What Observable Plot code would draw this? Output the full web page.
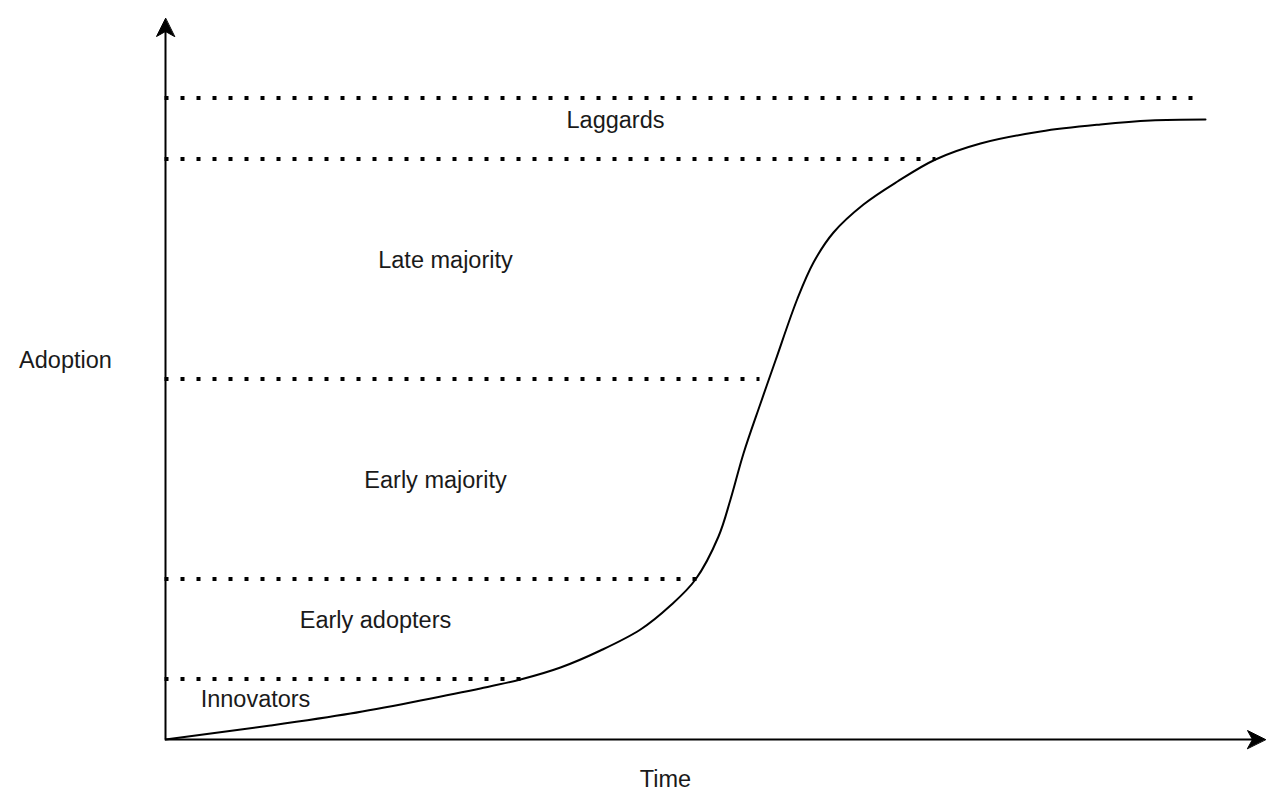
<!DOCTYPE html>
<html>
<head>
<meta charset="utf-8">
<script src="https://cdn.jsdelivr.net/npm/d3@7"></script>
<script src="https://cdn.jsdelivr.net/npm/@observablehq/plot@0.6"></script>
<style>
  html, body { margin: 0; padding: 0; background: #fff; }
  #chart svg { display: block; }
</style>
</head>
<body>
<div id="chart"></div>
<script>
// Adoption curve (time, adoption)
const curveTime = [0, 105, 185, 255, 315, 355, 395, 435, 475, 505, 530, 553, 565, 578, 595, 610, 632, 648, 668, 698, 732, 770, 815, 875, 935, 985, 1040];
const curveAdoption = [0, 14, 26, 39, 51, 60, 72, 89, 110, 134, 160, 203, 240, 286, 336, 379, 441, 477, 507, 535, 558, 580, 596, 608, 615, 619, 620];

// Segment boundaries (dotted lines): level and where each dotted line ends
const boundaryLevels = [641, 580, 360, 160, 60];
const boundaryEnds = [1028, 771, 595, 532, 356];

// Segment labels
const segmentNames = ["Laggards", "Late majority", "Early majority", "Early adopters", "Innovators"];
const segmentLabelX = [450, 280, 270, 210, 90];
const segmentLabelY = [619, 479, 259, 119, 40];

// Axis extents and titles
const timeMax = 1100;
const adoptionMax = 721;
const axisTitles = ["Adoption", "Time"];
const axisTitleX = [-100, 500];
const axisTitleY = [379, -40];

const curve = curveTime.map((t, i) => ({time: t, adoption: curveAdoption[i]}));
const boundaries = boundaryLevels.map((y, i) => ({y, x2: boundaryEnds[i]}));
const labels = segmentNames.map((name, i) => ({name, x: segmentLabelX[i], y: segmentLabelY[i]}));
const titles = axisTitles.map((name, i) => ({name, x: axisTitleX[i], y: axisTitleY[i]}));

// classic filled arrowhead, tip at origin pointing up
const arrowHead = {
  draw(context, l) {
    context.moveTo(0, 0);
    context.lineTo(-9, 18);
    context.lineTo(0, 13);
    context.lineTo(9, 18);
    context.closePath();
  }
};
const heads = [
  {x: 0, y: adoptionMax, rotate: 0},
  {x: timeMax, y: 0, rotate: 90}
];

const font = "'Liberation Sans', Arial, Helvetica, sans-serif";

const chart = Plot.plot({
  width: 1286,
  height: 804,
  marginLeft: 165,
  marginRight: 21,
  marginTop: 18,
  marginBottom: 65,
  x: {domain: [0, timeMax], axis: null},
  y: {domain: [0, adoptionMax], axis: null},
  style: {fontFamily: font, background: "#fff"},
  marks: [
    Plot.ruleY(boundaries, {y: "y", x1: 0, x2: "x2", dx: -0.5, dy: -0.5, stroke: "black", strokeWidth: 4, strokeDasharray: "4,12", strokeLinecap: "butt"}),
    Plot.ruleY([0], {x1: 0, x2: timeMax - 12, stroke: "black", strokeWidth: 2}),
    Plot.ruleX([0], {y1: 0, y2: adoptionMax - 12, stroke: "black", strokeWidth: 2}),
    Plot.vector(heads, {x: "x", y: "y", rotate: "rotate", length: 18, anchor: "start", shape: arrowHead, fill: "black", stroke: "black", strokeWidth: 1}),
    Plot.line(curve, {x: "time", y: "adoption", curve: "catmull-rom", stroke: "black", strokeWidth: 2}),
    Plot.text(labels, {x: "x", y: "y", text: "name", fontSize: 23.5, fill: "#1a1a1a"}),
    Plot.text(titles, {x: "x", y: "y", text: "name", fontSize: 23.5, fill: "#1a1a1a"})
  ]
});
document.getElementById("chart").appendChild(chart);
</script>
</body>
</html>
